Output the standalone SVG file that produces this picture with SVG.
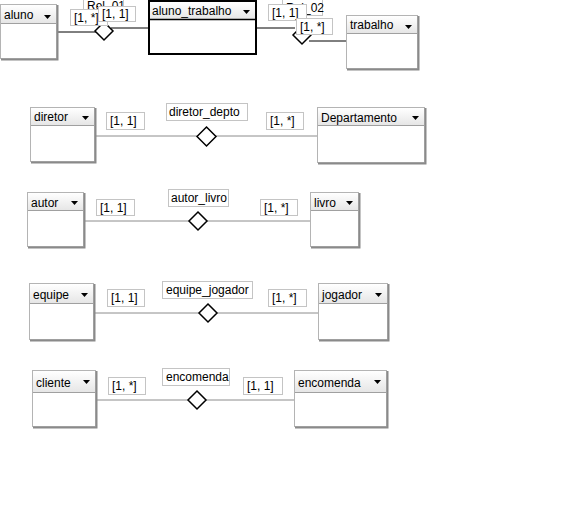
<svg xmlns="http://www.w3.org/2000/svg" width="563" height="531" viewBox="0 0 563 531">
<style>
text{font-family:"Liberation Sans",Arial,sans-serif;font-size:12px;fill:#000}
.box{fill:#fff;stroke:#b4b4b4;stroke-width:1}
.sh{fill:none;stroke:#8a8a8a;stroke-width:2}
.hd{fill:url(#hg)}
.sep{stroke:#a0a0a0;stroke-width:1}
.sel .box{stroke:#000;stroke-width:2}
.sel .sep{stroke:#000;stroke-width:1.5}
.lbl{fill:#fff;stroke:#c4c4c4;stroke-width:1}
.con{stroke:#8c8c8c;stroke-width:1;fill:none}
.conb{stroke:#000;stroke-width:1;fill:none}
.dia{fill:#fff;stroke:#000;stroke-width:1.5}
.tri{fill:#000}
</style>
<defs>
<linearGradient id="hg" x1="0" y1="0" x2="0" y2="1">
<stop offset="0" stop-color="#ffffff"/>
<stop offset="1" stop-color="#e6e6e6"/>
</linearGradient>
</defs>
<g id="connectors">
<line class="conb" x1="58" y1="32" x2="97" y2="32"/>
<line class="conb" x1="111" y1="28" x2="148" y2="28"/>
<line class="conb" x1="256" y1="28" x2="295" y2="28"/>
<line class="conb" x1="309" y1="41" x2="346" y2="41"/>
<line class="con" x1="95" y1="136" x2="317" y2="136"/>
<line class="con" x1="84" y1="221" x2="310" y2="221"/>
<line class="con" x1="94" y1="313" x2="318" y2="313"/>
<line class="con" x1="96" y1="400" x2="294" y2="400"/>
</g>
<g id="entity-aluno">
<rect class="box" x="0.5" y="4.5" width="56" height="54"/>
<rect class="hd" x="1" y="5" width="55" height="18"/>
<line class="sep" x1="1" y1="23.5" x2="56" y2="23.5"/>
<path class="sh" d="M57.5 5V59.5H1"/>
<text x="4" y="19">aluno</text>
<path class="tri" d="M44 15h7l-3.5 4z"/>
</g>
<g id="entity-aluno_trabalho" class="sel">
<rect class="box" x="149" y="1" width="107" height="53"/>
<rect class="hd" x="150" y="2" width="105" height="17"/>
<line class="sep" x1="149" y1="19.5" x2="256" y2="19.5"/>
<text x="152" y="15">aluno_trabalho</text>
<path class="tri" d="M243 10h7l-3.5 4z"/>
</g>
<g id="entity-trabalho">
<rect class="box" x="346.5" y="15.5" width="71" height="53"/>
<rect class="hd" x="347" y="16" width="70" height="17"/>
<line class="sep" x1="347" y1="33.5" x2="417" y2="33.5"/>
<path class="sh" d="M418.5 16V69.5H347"/>
<text x="350" y="29">trabalho</text>
<path class="tri" d="M405 25h7l-3.5 4z"/>
</g>
<g id="entity-diretor">
<rect class="box" x="30.5" y="107.5" width="64" height="54"/>
<rect class="hd" x="31" y="108" width="63" height="17"/>
<line class="sep" x1="31" y1="125.5" x2="94" y2="125.5"/>
<path class="sh" d="M95.5 108V162.5H31"/>
<text x="34" y="121">diretor</text>
<path class="tri" d="M82 116h7l-3.5 4z"/>
</g>
<g id="entity-Departamento">
<rect class="box" x="317.5" y="107.5" width="107" height="55"/>
<rect class="hd" x="318" y="108" width="106" height="17"/>
<line class="sep" x1="318" y1="125.5" x2="424" y2="125.5"/>
<path class="sh" d="M425.5 108V163.5H318"/>
<text x="321" y="122">Departamento</text>
<path class="tri" d="M412 116h7l-3.5 4z"/>
</g>
<g id="entity-autor">
<rect class="box" x="27.5" y="192.5" width="56" height="54"/>
<rect class="hd" x="28" y="193" width="55" height="17"/>
<line class="sep" x1="28" y1="210.5" x2="83" y2="210.5"/>
<path class="sh" d="M84.5 193V247.5H28"/>
<text x="31" y="207">autor</text>
<path class="tri" d="M71 201h7l-3.5 4z"/>
</g>
<g id="entity-livro">
<rect class="box" x="310.5" y="192.5" width="48" height="54"/>
<rect class="hd" x="311" y="193" width="47" height="17"/>
<line class="sep" x1="311" y1="210.5" x2="358" y2="210.5"/>
<path class="sh" d="M359.5 193V247.5H311"/>
<text x="314" y="207">livro</text>
<path class="tri" d="M346 201h7l-3.5 4z"/>
</g>
<g id="entity-equipe">
<rect class="box" x="29.5" y="283.5" width="64" height="56"/>
<rect class="hd" x="30" y="284" width="63" height="19"/>
<line class="sep" x1="30" y1="303.5" x2="93" y2="303.5"/>
<path class="sh" d="M94.5 284V340.5H30"/>
<text x="33" y="299">equipe</text>
<path class="tri" d="M81 293h7l-3.5 4z"/>
</g>
<g id="entity-jogador">
<rect class="box" x="318.5" y="283.5" width="69" height="56"/>
<rect class="hd" x="319" y="284" width="68" height="19"/>
<line class="sep" x1="319" y1="303.5" x2="387" y2="303.5"/>
<path class="sh" d="M388.5 284V340.5H319"/>
<text x="322" y="299">jogador</text>
<path class="tri" d="M375 293h7l-3.5 4z"/>
</g>
<g id="entity-cliente">
<rect class="box" x="32.5" y="370.5" width="63" height="56"/>
<rect class="hd" x="33" y="371" width="62" height="21"/>
<line class="sep" x1="33" y1="392.5" x2="95" y2="392.5"/>
<path class="sh" d="M96.5 371V427.5H33"/>
<text x="36" y="387">cliente</text>
<path class="tri" d="M83 380h7l-3.5 4z"/>
</g>
<g id="entity-encomenda">
<rect class="box" x="294.5" y="370.5" width="92" height="56"/>
<rect class="hd" x="295" y="371" width="91" height="21"/>
<line class="sep" x1="295" y1="392.5" x2="386" y2="392.5"/>
<path class="sh" d="M387.5 371V427.5H295"/>
<text x="298" y="387">encomenda</text>
<path class="tri" d="M374 380h7l-3.5 4z"/>
</g>
<g id="rel-Rel_01">
<path class="dia" d="M104 22L113 31L104 40L95 31Z"/>
<rect class="lbl" x="83.5" y="-3.5" width="40" height="17"/>
<text x="87" y="10">Rel_01</text>
<rect class="lbl" x="70.5" y="9.5" width="37" height="16"/>
<text x="74" y="22">[1, *]</text>
<rect class="lbl" x="98.5" y="6.5" width="37" height="15"/>
<text x="102" y="18">[1, 1]</text>
</g>
<g id="rel-Rel_02">
<path class="dia" d="M302 26L311 35L302 44L293 35Z"/>
<rect class="lbl" x="282.5" y="-1.5" width="40" height="17"/>
<text x="286" y="12">Rel_02</text>
<rect class="lbl" x="268.5" y="4.5" width="38" height="16"/>
<text x="272" y="17">[1, 1]</text>
<rect class="lbl" x="296.5" y="18.5" width="36" height="16"/>
<text x="300" y="31">[1, *]</text>
</g>
<g id="rel-diretor_depto">
<path class="dia" d="M206.5 127L216 136.5L206.5 146L197 136.5Z"/>
<rect class="lbl" x="106.5" y="112.5" width="38" height="17"/>
<text x="110" y="125">[1, 1]</text>
<rect class="lbl" x="166.5" y="103.5" width="81" height="17"/>
<text x="169" y="116">diretor_depto</text>
<rect class="lbl" x="266.5" y="112.5" width="37" height="17"/>
<text x="270" y="125">[1, *]</text>
</g>
<g id="rel-autor_livro">
<path class="dia" d="M198 212L207 221L198 230L189 221Z"/>
<rect class="lbl" x="96.5" y="199.5" width="38" height="16"/>
<text x="100" y="212">[1, 1]</text>
<rect class="lbl" x="168.5" y="189.5" width="60" height="17"/>
<text x="171" y="202">autor_livro</text>
<rect class="lbl" x="260.5" y="199.5" width="37" height="16"/>
<text x="264" y="212">[1, *]</text>
</g>
<g id="rel-equipe_jogador">
<path class="dia" d="M208 304L217 313L208 322L199 313Z"/>
<rect class="lbl" x="107.5" y="289.5" width="37" height="17"/>
<text x="111" y="302">[1, 1]</text>
<rect class="lbl" x="162.5" y="281.5" width="90" height="17"/>
<text x="166" y="294">equipe_jogador</text>
<rect class="lbl" x="268.5" y="289.5" width="38" height="17"/>
<text x="272" y="302">[1, *]</text>
</g>
<g id="rel-encomenda">
<path class="dia" d="M197 391L206 400L197 409L188 400Z"/>
<rect class="lbl" x="108.5" y="377.5" width="37" height="17"/>
<text x="112" y="390">[1, *]</text>
<rect class="lbl" x="162.5" y="368.5" width="67" height="17"/>
<text x="166" y="381">encomenda</text>
<rect class="lbl" x="243.5" y="377.5" width="39" height="17"/>
<text x="247" y="390">[1, 1]</text>
</g>
</svg>
